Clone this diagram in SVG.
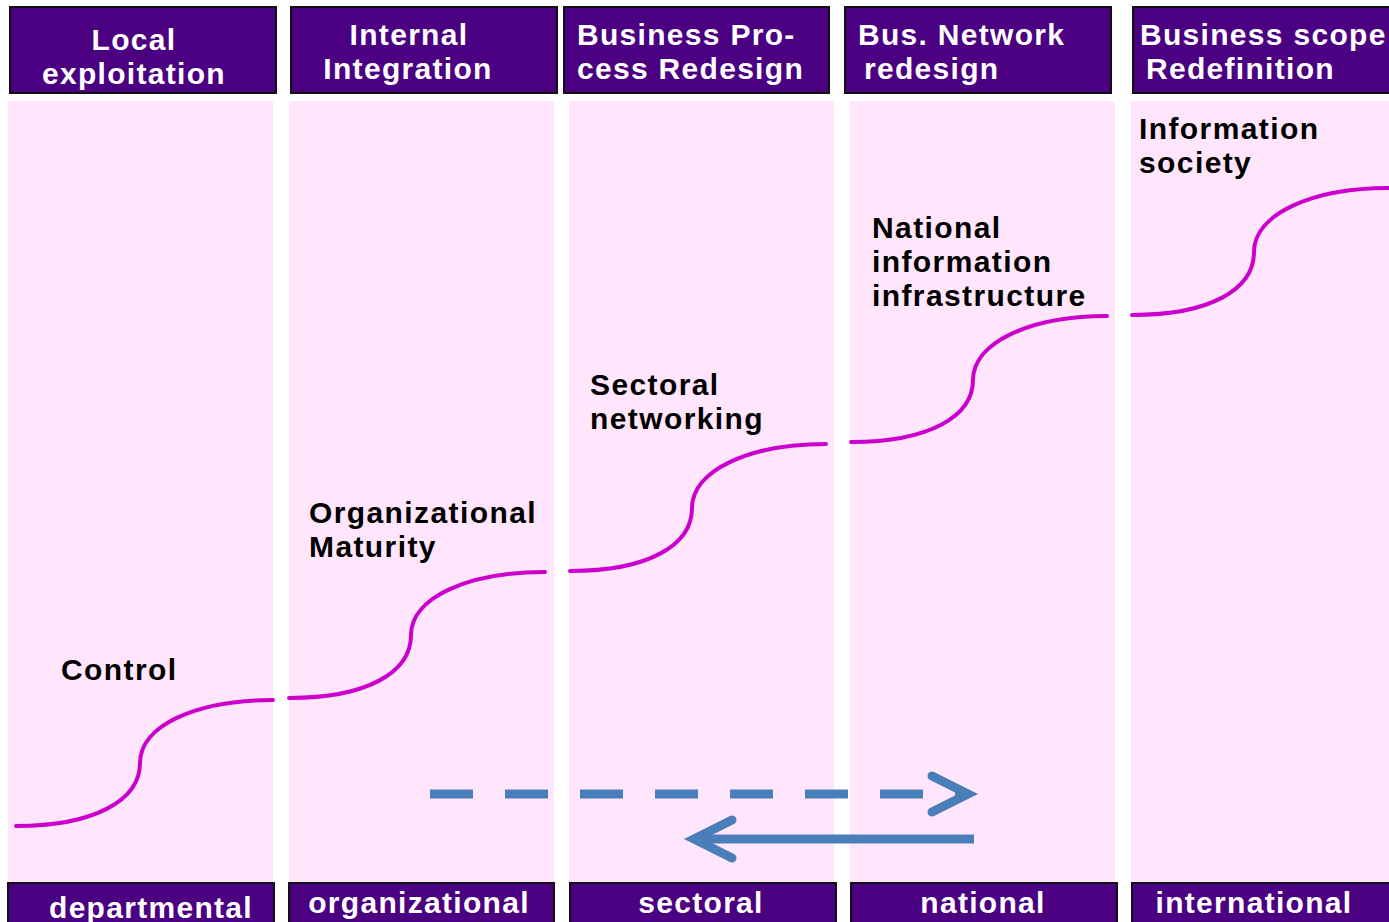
<svg xmlns="http://www.w3.org/2000/svg" width="1389" height="922" viewBox="0 0 1389 922">
<defs>
<style>
.col{fill:#FFE6FC;}
.box{fill:#4B0082;stroke:#111;stroke-width:2;}
.ht{font-family:"Liberation Sans",Arial,sans-serif;font-weight:bold;font-size:30px;letter-spacing:1.3px;fill:#fff;}
.bt{font-family:"Liberation Sans",Arial,sans-serif;font-weight:bold;font-size:30px;letter-spacing:1.3px;fill:#fff;text-anchor:middle;}
.lt{font-family:"Liberation Sans",Arial,sans-serif;font-weight:bold;font-size:30px;letter-spacing:1.4px;fill:#000;}
.curve{fill:none;stroke:#CC00CC;stroke-width:4;stroke-linecap:round;}
.arr{fill:none;stroke:#4A7EBB;stroke-width:9;}
</style>
</defs>
<rect width="1389" height="922" fill="#fff"/>
<g id="columns">
<rect class="col" x="8" y="101" width="265" height="782"/>
<rect class="col" x="289" y="101" width="265" height="782"/>
<rect class="col" x="569" y="101" width="265" height="782"/>
<rect class="col" x="850" y="101" width="265" height="782"/>
<rect class="col" x="1131" y="101" width="270" height="782"/>
</g>
<g id="h1"><rect class="box" x="10" y="7" width="266" height="86"/><text class="ht" text-anchor="middle" x="134" y="50">Local</text><text class="ht" text-anchor="middle" x="134" y="84">exploitation</text></g>
<g id="h2"><rect class="box" x="291" y="7" width="266" height="86"/><text class="ht" text-anchor="middle" x="409" y="45">Internal</text><text class="ht" text-anchor="middle" x="408" y="79">Integration</text></g>
<g id="h3"><rect class="box" x="564" y="7" width="265" height="86"/><text class="ht" x="577" y="45">Business Pro-</text><text class="ht" x="577" y="79">cess Redesign</text></g>
<g id="h4"><rect class="box" x="845" y="7" width="266" height="86"/><text class="ht" x="858" y="45">Bus. Network</text><text class="ht" x="864" y="79">redesign</text></g>
<g id="h5"><rect class="box" x="1133" y="7" width="270" height="86"/><text class="ht" x="1140" y="45">Business scope</text><text class="ht" x="1146" y="79">Redefinition</text></g>
<g id="b1"><rect class="box" x="8" y="883" width="266" height="45"/><text class="bt" x="151" y="918">departmental</text></g>
<g id="b2"><rect class="box" x="289" y="883" width="265" height="45"/><text class="bt" x="419" y="913">organizational</text></g>
<g id="b3"><rect class="box" x="570" y="883" width="266" height="45"/><text class="bt" x="701" y="913">sectoral</text></g>
<g id="b4"><rect class="box" x="851" y="883" width="266" height="45"/><text class="bt" x="983" y="913">national</text></g>
<g id="b5"><rect class="box" x="1132" y="883" width="270" height="45"/><text class="bt" x="1254" y="913">international</text></g>
<g id="labels">
<text class="lt" x="61" y="680">Control</text>
<text class="lt" x="309" y="523">Organizational</text>
<text class="lt" x="309" y="557">Maturity</text>
<text class="lt" x="590" y="395">Sectoral</text>
<text class="lt" x="590" y="429">networking</text>
<text class="lt" x="872" y="238">National</text>
<text class="lt" x="872" y="272">information</text>
<text class="lt" x="872" y="306">infrastructure</text>
<text class="lt" x="1139" y="139">Information</text>
<text class="lt" x="1139" y="173">society</text>
</g>
<g id="connectors">
<path class="curve" d="M16,826 C95,826 140,800 140,763 C140,726 195,700 273,700"/>
<path class="curve" d="M289,698 C368,698 411,672 411,635 C411,598 467,572 545,572"/>
<path class="curve" d="M570,571 C649,571 692,545 692,508 C692,471 748,444 826,444"/>
<path class="curve" d="M851,442 C930,442 973,416 973,380 C973,343 1029,316 1107,316"/>
<path class="curve" d="M1132,315 C1211,315 1254,289 1254,252 C1254,215 1310,188 1389,188"/>
<line class="arr" x1="430" y1="794" x2="965" y2="794" stroke-dasharray="43 32"/>
<polyline class="arr" points="932,776 968,794 932,812" stroke-linecap="round" stroke-linejoin="miter"/>
<line class="arr" x1="974" y1="839" x2="700" y2="839"/>
<polyline class="arr" points="732,820 694,839 732,858" stroke-linecap="round" stroke-linejoin="miter"/>
</g>
</svg>
